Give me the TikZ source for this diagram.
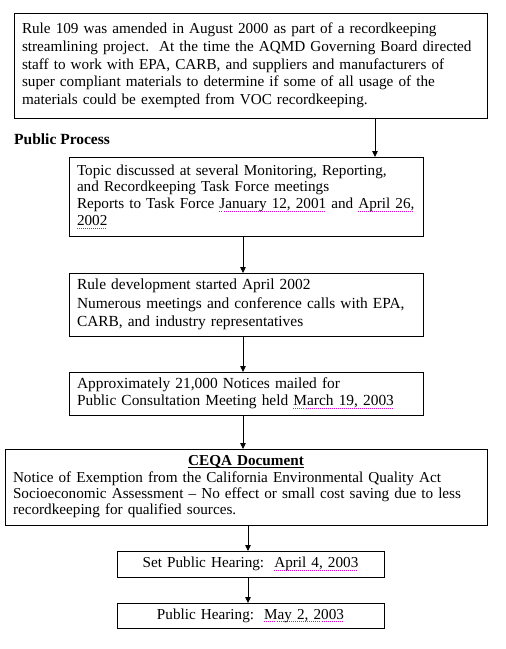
\documentclass[tikz,border=0pt]{standalone}
\usepackage{fontspec}
\setmainfont{Liberation Serif}
\usetikzlibrary{arrows.meta}
\definecolor{spellmark}{rgb}{0.85,0,0.85}
\newsavebox\sqdbox
\newcommand\sqd[1]{\leavevmode\sbox\sqdbox{#1}\rlap{\color{spellmark}\raisebox{-2.8pt}{\hbox to \wd\sqdbox{\xleaders\hbox{\rule{1pt}{0.8pt}\hspace{1pt}}\hfill}}}\usebox\sqdbox}
\newcommand\ulc[1]{\leavevmode\sbox\sqdbox{#1}\rlap{\rule[-2.2pt]{\wd\sqdbox}{0.9pt}}\usebox\sqdbox}
\tikzset{
  stepbox/.style={draw, line width=0.8pt, rectangle, outer sep=0pt, inner xsep=8pt, inner ysep=0pt,
    align=left, font=\fontsize{15.2}{17.5}\selectfont},
  arr/.style={line width=0.8pt, -{Triangle[length=6pt,width=5.5pt]}}
}
\begin{document}
\begin{tikzpicture}[x=1pt,y=-1pt]
\useasboundingbox (0,0) rectangle (506,649);
\node[stepbox, minimum width=473pt, minimum height=105pt, text width=457pt, font=\fontsize{15.2}{17.7}\selectfont] (b1) at (250.5,65.5)
 {Rule 109 was amended in August 2000 as part of a recordkeeping\\
  streamlining project.\ \ At the time the AQMD Governing Board directed\\
  staff to work with EPA, CARB, and suppliers and manufacturers of\\
  super compliant materials to determine if some of all usage of the\\
  materials could be exempted from VOC recordkeeping.};
\node[font=\bfseries\fontsize{15.5}{17}\selectfont, anchor=base west, inner sep=0pt] (pp) at (14,144) {Public Process};
\node[stepbox, minimum width=354pt, minimum height=79pt, text width=338pt, font=\fontsize{15.2}{16.8}\selectfont] (b2) at (246,196.5)
 {Topic discussed at several Monitoring, Reporting,\\
  and Recordkeeping Task Force meetings\\
  Reports to Task Force \sqd{January 12, 2001} and \sqd{April 26,}\\
  \sqd{2002}};
\node[stepbox, minimum width=354pt, minimum height=63pt, text width=338pt, font=\fontsize{15.4}{18.3}\selectfont] (b3) at (246,304.5)
 {Rule development started April 2002\\
  Numerous meetings and conference calls with EPA,\\
  CARB, and industry representatives};
\node[stepbox, minimum width=354pt, minimum height=43pt, text width=338pt, font=\fontsize{15.4}{17.3}\selectfont] (b4) at (246,393.5)
 {Approximately 21,000 Notices mailed for\\
  Public Consultation Meeting held \sqd{March 19, 2003}};
\node[stepbox, minimum width=482pt, minimum height=76pt, text width=466pt, font=\fontsize{15.2}{16.3}\selectfont] (b5) at (246,487)
 {\centering\textbf{\ulc{CEQA Document}}\par
  \raggedright Notice of Exemption from the California Environmental Quality Act\\
  Socioeconomic Assessment -- No effect or small cost saving due to less\\
  recordkeeping for qualified sources.};
\node[stepbox, align=center, minimum width=267pt, minimum height=26pt, text width=251pt] (b6) at (250.5,564)
 {Set Public Hearing:\ \ \sqd{April 4, 2003}};
\node[stepbox, align=center, minimum width=267pt, minimum height=25pt, text width=251pt] (b7) at (250.5,615.5)
 {Public Hearing:\ \ \sqd{May 2, 2003}};
\coordinate (a1) at (375,0);
\coordinate (a2) at (243,0);
\coordinate (a3) at (248,0);
\draw[arr] (b1.south -| a1) -- (b2.north -| a1);
\draw[arr] (b2.south -| a2) -- (b3.north -| a2);
\draw[arr] (b3.south -| a2) -- (b4.north -| a2);
\draw[arr] (b4.south -| a2) -- (b5.north -| a2);
\draw[arr] (b5.south -| a3) -- (b6.north -| a3);
\draw[arr] (b6.south -| a3) -- (b7.north -| a3);
\end{tikzpicture}
\end{document}
